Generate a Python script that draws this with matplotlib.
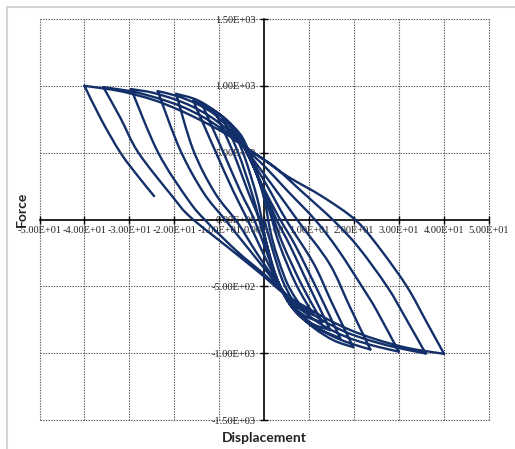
import numpy as np
import matplotlib
matplotlib.use("Agg")
import matplotlib.pyplot as plt
from matplotlib.path import Path
from matplotlib.patches import PathPatch, Rectangle

# Displacement / force history of the cyclic test (one continuous series)
disp = [
    0.0, 1.8, 4.0, 6.3, 8.7,
    5.0, 1.8, 0.0, -2.2, -4.8, -7.6,
    -4.5, -1.5, 0.3, 2.3, 5.0, 8.0, 11.0,
    7.0, 3.3, 1.0, -2.5, -5.5, -9.4,
    -5.8, -2.6, -0.3, 2.5, 5.5, 9.0, 12.9,
    8.5, 4.2, 1.6, -2.8, -6.0, -8.5, -11.0,
    -7.0, -3.5, -0.8, 2.8, 6.0, 10.0, 14.7,
    10.0, 5.8, 2.3, -3.1, -6.3, -9.8, -13.8,
    -9.2, -5.3, -2.0, 3.0, 6.3, 10.5, 16.9,
    12.0, 7.0, 3.2, -0.5, -3.6, -6.5, -10.5, -15.8,
    -11.0, -7.0, -3.6, 0.0, 3.3, 6.5, 11.0, 15.5, 19.8,
    15.0, 11.0, 5.0, 0.5, -4.0, -7.0, -10.5, -15.0, -19.6,
    -15.8, -11.0, -6.0, -1.5, 3.6, 7.0, 11.0, 15.0, 19.0, 23.6,
    19.0, 14.5, 7.5, 1.5, -4.3, -7.5, -11.0, -15.0, -19.5, -23.7,
    -18.7, -13.5, -8.5, -3.0, 4.0, 8.0, 12.0, 16.0, 20.0, 25.0, 29.9,
    25.0, 21.8, 16.5, 11.5, 5.0, 0.0, -4.6, -8.0, -12.0, -16.0, -20.0, -25.0, -29.6,
    -23.6, -16.9, -13.0, -6.0, 0.0, 4.3, 8.5, 13.0, 18.0, 23.0, 29.0, 35.9,
    31.5, 27.4, 21.0, 15.5, 8.0, 2.0, -4.9, -8.5, -13.0, -18.0, -23.0, -29.0, -35.8,
    -32.0, -28.0, -20.5, -16.5, -8.0, -1.0, 4.6, 9.0, 14.3, 19.0, 24.7, 32.0, 40.0,
    36.0, 31.8, 26.0, 20.5, 13.0, 5.3, 0.0, -5.2, -9.0, -14.3, -19.0, -24.7, -32.0, -40.0,
    -36.3, -32.0, -28.0, -24.5,
]
force = [
    0, -220, -450, -600, -678,
    -470, -150, 150, 400, 610, 720,
    480, 150, -150, -400, -580, -670, -715,
    -480, -180, 80, 410, 620, 770,
    500, 180, -100, -420, -610, -720, -768,
    -500, -190, 50, 430, 650, 750, 810,
    510, 200, -30, -440, -650, -770, -828,
    -500, -200, 30, 450, 650, 780, 860,
    510, 210, -20, -460, -660, -790, -888,
    -540, -200, 20, 260, 480, 660, 800, 888,
    520, 220, -10, -270, -490, -670, -810, -905, -955,
    -620, -330, -10, 260, 510, 680, 800, 895, 940,
    520, 200, -20, -260, -510, -670, -790, -870, -925, -972,
    -650, -330, -10, 270, 530, 670, 785, 865, 925, 960,
    520, 200, -10, -240, -530, -665, -770, -845, -900, -950, -988,
    -680, -505, -230, -10, 220, 400, 545, 665, 770, 845, 900, 950, 975,
    500, 146, -10, -240, -410, -545, -655, -755, -840, -900, -955, -1002,
    -740, -505, -210, -10, 220, 400, 555, 655, 755, 840, 900, 955, 990,
    760, 500, 175, 20, -210, -400, -560, -650, -750, -825, -895, -962, -1005,
    -760, -505, -230, -10, 170, 320, 445, 565, 650, 745, 820, 895, 960, 1000,
    750, 500, 320, 175,
]

x_ticks = [-50, -40, -30, -20, -10, 0, 10, 20, 30, 40, 50]
y_ticks = [-1500, -1000, -500, 0, 500, 1000, 1500]

LINE = "#14306a"
GRID = "#555555"

fig = plt.figure(figsize=(5.15, 4.49), dpi=100)
ax = fig.add_axes([39.5 / 515, 1 - 420 / 449, 449.5 / 515, 401 / 449])
ax.set_xlim(x_ticks[0], x_ticks[-1])
ax.set_ylim(y_ticks[0], y_ticks[-1])
ax.patch.set_alpha(0)

# dotted grid, including the outer frame of the plot area
for xv in x_ticks:
    if xv != 0:
        ax.axvline(xv, color=GRID, lw=0.8, ls=(0, (1.2, 1.2)), clip_on=False, zorder=1)
for yv in y_ticks:
    if yv != 0:
        ax.axhline(yv, color=GRID, lw=0.8, ls=(0, (1.2, 1.2)), clip_on=False, zorder=1)

# axes crossing at the origin
for side in ("top", "right"):
    ax.spines[side].set_visible(False)
for side in ("left", "bottom"):
    ax.spines[side].set_position(("data", 0))
    ax.spines[side].set_color("black")
    ax.spines[side].set_linewidth(1.2)

ax.set_xticks(x_ticks)
ax.set_yticks(y_ticks)
ax.set_xticklabels(["{:.2E}".format(v) for v in x_ticks])
ax.set_yticklabels(["{:.2E}".format(v) for v in y_ticks])
ax.tick_params(direction="inout", length=6, width=1, color="black",
               labelsize=7.5, labelcolor="#222222")
ax.tick_params(axis="x", pad=1.5)
ax.tick_params(axis="y", pad=3)
for lab in ax.get_xticklabels() + ax.get_yticklabels():
    lab.set_fontfamily("Liberation Serif")

# smooth curve through the points, one branch between reversals at a time
x = np.asarray(disp, float)
y = np.asarray(force, float)
dx = np.sign(np.diff(x))
breaks = [0] + [i + 1 for i in range(len(dx) - 1) if dx[i] != dx[i + 1]] + [len(x) - 1]

verts, codes = [], []
for a, b in zip(breaks[:-1], breaks[1:]):
    P = np.column_stack([x[a:b + 1], y[a:b + 1]])
    n = len(P)
    ext = np.vstack([P[0], P, P[-1]])
    verts.append(P[0]); codes.append(Path.MOVETO)
    for k in range(n - 1):
        p0, p1, p2, p3 = ext[k], ext[k + 1], ext[k + 2], ext[k + 3]
        c1 = p1 + (p2 - p0) / 6.0
        c2 = p2 - (p3 - p1) / 6.0
        verts += [c1, c2, p2]
        codes += [Path.CURVE4] * 3

ax.add_patch(PathPatch(Path(np.array(verts), codes), fill=False, edgecolor=LINE,
                       lw=1.7, capstyle="round", joinstyle="round", zorder=3))

fig.text(22 / 515, 1 - 209 / 449, "Force", rotation=90, ha="center", va="center",
         fontsize=10, fontweight="bold", family="Lato", color="#222222")
fig.text(264 / 515, 1 - 438 / 449, "Displacement", ha="center", va="center",
         fontsize=10, fontweight="bold", family="Lato", color="#222222")

# light chart-area border
fig.add_artist(Rectangle((7 / 515, -0.05), 1.2, 1 - 7 / 449 + 0.05,
                         transform=fig.transFigure, fill=False,
                         edgecolor="#d4d4d4", lw=1.5))

fig.savefig("out.png", dpi=100)
